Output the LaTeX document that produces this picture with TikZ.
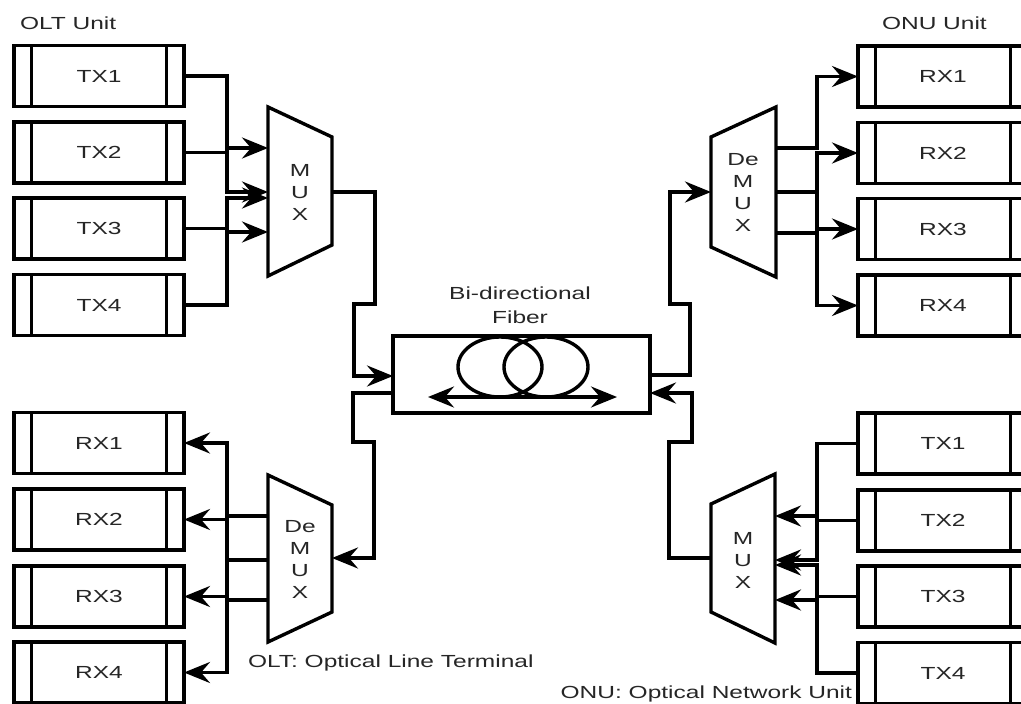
\documentclass[tikz,border=0pt]{standalone}
\usepackage{fontspec}
\setmainfont{Liberation Sans}
\usetikzlibrary{arrows.meta}
\newcommand{\wt}[1]{\scalebox{1.4}[1]{#1}}
\begin{document}
\begin{tikzpicture}[x=1pt,y=-1pt,
  every node/.style={font=\fontsize{17.5}{22}\selectfont, inner sep=0pt, outer sep=0pt, text=black!85},
  ln/.style={line width=3.4pt},
  conn/.style={ln, -{Stealth[length=26pt,width=21pt,inset=9pt]}},
  proc/.style={draw, ln, minimum width=170pt, minimum height=61pt,
    path picture={\draw[line width=3.4pt]
      ([xshift=17.5pt]path picture bounding box.north west) -- ([xshift=17.5pt]path picture bounding box.south west)
      ([xshift=-17.5pt]path picture bounding box.north east) -- ([xshift=-17.5pt]path picture bounding box.south east);}},
  trap/.style={ln, line join=miter},
  lbl/.style={align=center}
]
\useasboundingbox (0,0) rectangle (1021,704);
\fill[white] (0,0) rectangle (1021,704);

% ---------- OLT side boxes ----------
\node[proc] (otx1) at (99,76)    {\wt{TX1}};
\node[proc] (otx2) at (99,152.5) {\wt{TX2}};
\node[proc] (otx3) at (99,228.5) {\wt{TX3}};
\node[proc] (otx4) at (99,305)   {\wt{TX4}};
\node[proc] (orx1) at (99,443)   {\wt{RX1}};
\node[proc] (orx2) at (99,519.5) {\wt{RX2}};
\node[proc] (orx3) at (99,596.5) {\wt{RX3}};
\node[proc] (orx4) at (99,672.5) {\wt{RX4}};

% ---------- ONU side boxes ----------
\node[proc] (urx1) at (943,76.5)  {\wt{RX1}};
\node[proc] (urx2) at (943,153)   {\wt{RX2}};
\node[proc] (urx3) at (943,229)   {\wt{RX3}};
\node[proc] (urx4) at (943,305.5) {\wt{RX4}};
\node[proc] (utx1) at (943,443.5) {\wt{TX1}};
\node[proc] (utx2) at (943,520.5) {\wt{TX2}};
\node[proc] (utx3) at (943,596.5) {\wt{TX3}};
\node[proc] (utx4) at (943,673)   {\wt{TX4}};

% ---------- MUX / DeMUX shapes ----------
\draw[trap] (268,107) -- (332,137) -- (332,245) -- (268,276) -- cycle;
\node[lbl] (lmux) at (300,192) {\wt{M}\\\wt{U}\\\wt{X}};
\draw[trap] (268,475) -- (332,505) -- (332,612) -- (268,642) -- cycle;
\node[lbl] (ldmx) at (300,559) {\wt{De}\\\wt{M}\\\wt{U}\\\wt{X}};
\draw[trap] (711,137) -- (776,107) -- (776,277) -- (711,247) -- cycle;
\node[lbl] (rdmx) at (743,192) {\wt{De}\\\wt{M}\\\wt{U}\\\wt{X}};
\draw[trap] (711,504) -- (775,474) -- (775,643) -- (711,612) -- cycle;
\node[lbl] (rmux) at (743,560) {\wt{M}\\\wt{U}\\\wt{X}};

% ports
\coordinate (mA) at (268,148);
\coordinate (mB) at (268,192);
\coordinate (mC) at (268,198);
\coordinate (mD) at (268,232);
\coordinate (mO) at (332,192);
\coordinate (dA) at (268,516);
\coordinate (dB) at (268,560);
\coordinate (dC) at (268,600);
\coordinate (dI) at (332,558);
\coordinate (uA) at (776,148);
\coordinate (uB) at (776,192);
\coordinate (uC) at (776,233);
\coordinate (uI) at (711,192);
\coordinate (vA) at (775,516);
\coordinate (vB) at (775,560);
\coordinate (vC) at (775,565);
\coordinate (vD) at (775,600);
\coordinate (vO) at (711,558);
\coordinate (bL) at (227,0);
\coordinate (bR) at (817,0);

% ---------- fiber ----------
\node[draw, ln, minimum width=257pt, minimum height=77pt] (fib) at (521.5,374.5) {};
\coordinate (fLi) at (393,376);
\coordinate (fLo) at (393,393);
\coordinate (fRo) at (650,375);
\coordinate (fRi) at (650,393);
\draw[ln] (500,367) ellipse [x radius=42pt, y radius=30pt];
\draw[ln] (546,367) ellipse [x radius=42pt, y radius=30pt];
\coordinate (dl) at (428,397);
\coordinate (dr) at (617,397);
\draw[ln, {Stealth[length=26pt,width=21pt,inset=9pt]}-{Stealth[length=26pt,width=21pt,inset=9pt]}] (dl) -- (dr);
\node[lbl, font=\fontsize{17.5}{24}\selectfont] (bidi) at (520,305) {\wt{Bi-directional}\\\wt{Fiber}};

% ---------- OLT connectors ----------
\draw[conn] (otx1.east) -| (bL |- mB) -- (mB);
\draw[conn] (otx2.east) -| (bL |- mA) -- (mA);
\draw[conn] (otx3.east) -| (bL |- mC) -- (mC);
\draw[conn] (otx4.east) -| (bL |- mD) -- (mD);
\draw[conn] (dA) -| (bL |- orx1) -- (orx1.east);
\draw[conn] (dB) -| (bL |- orx2) -- (orx2.east);
\draw[conn] (dB) -| (bL |- orx3) -- (orx3.east);
\draw[conn] (dC) -| (bL |- orx4) -- (orx4.east);

% ---------- ONU connectors ----------
\draw[conn] (uA) -| (bR |- urx1) -- (urx1.west);
\draw[conn] (uB) -| (bR |- urx2) -- (urx2.west);
\draw[conn] (uB) -| (bR |- urx3) -- (urx3.west);
\draw[conn] (uC) -| (bR |- urx4) -- (urx4.west);
\draw[conn] (utx1.west) -| (bR |- vB) -- (vB);
\draw[conn] (utx2.west) -| (bR |- vA) -- (vA);
\draw[conn] (utx3.west) -| (bR |- vC) -- (vC);
\draw[conn] (utx4.west) -| (bR |- vD) -- (vD);

% ---------- fiber links ----------
\draw[conn] (mO) -| (375,304) -| (354,376) -- (fLi);
\draw[conn] (fLo) -| (353,442) -| (374,558) -- (dI);
\draw[conn] (fRo) -| (690,304) -| (670,192) -- (uI);
\draw[conn] (vO) -| (669,442) -| (692,393) -- (fRi);

% ---------- labels ----------
\node[anchor=west] (oltu) at (20,23) {\wt{OLT Unit}};
\node[anchor=west] (onuu) at (882,23) {\wt{ONU Unit}};
\node[anchor=west] (oltl) at (248,663) {\wt{OLT: Optical Line Terminal}};
\node[anchor=east] (onul) at (852,694) {\wt{ONU: Optical Network Unit}};
\end{tikzpicture}
\end{document}
